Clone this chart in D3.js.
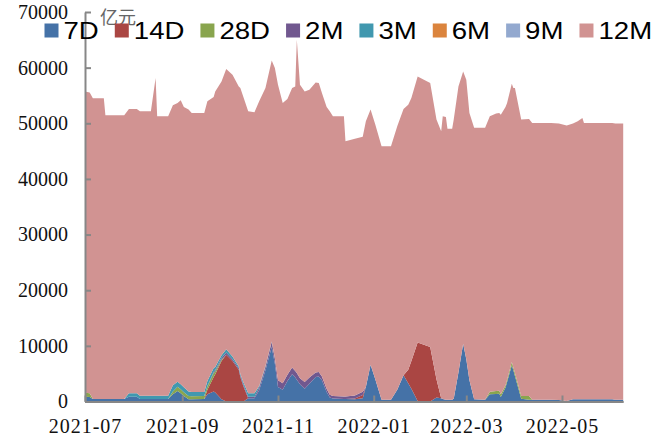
<!DOCTYPE html>
<html><head><meta charset="utf-8">
<script src="https://cdn.jsdelivr.net/npm/d3@7"></script>
<style>html,body{margin:0;padding:0;background:#fff;} svg{display:block}</style>
</head><body>
<svg id="chart" width="662" height="447"></svg>
<script>
const dates = ["2021-07-01","2021-07-04","2021-07-06","2021-07-13","2021-07-14","2021-07-26","2021-07-29","2021-08-03","2021-08-05","2021-08-12",
"2021-08-15","2021-08-16","2021-08-23","2021-08-26","2021-08-29","2021-08-31","2021-09-02","2021-09-05","2021-09-07","2021-09-15",
"2021-09-17","2021-09-21","2021-09-22","2021-09-26","2021-09-29","2021-10-03","2021-10-07","2021-10-08","2021-10-10","2021-10-13",
"2021-10-17","2021-10-20","2021-10-24","2021-10-28","2021-10-30","2021-11-01","2021-11-04","2021-11-07","2021-11-10","2021-11-12",
"2021-11-13","2021-11-15","2021-11-18","2021-11-21","2021-11-25","2021-11-27","2021-11-29","2021-12-02","2021-12-04","2021-12-06",
"2021-12-13","2021-12-14","2021-12-20","2021-12-25","2021-12-27","2021-12-30","2022-01-02","2022-01-06","2022-01-12","2022-01-16",
"2022-01-20","2022-01-23","2022-01-25","2022-01-29","2022-02-06","2022-02-10","2022-02-13","2022-02-14","2022-02-16","2022-02-17",
"2022-02-20","2022-02-21","2022-02-24","2022-02-27","2022-03-01","2022-03-03","2022-03-06","2022-03-13","2022-03-16","2022-03-20",
"2022-03-22","2022-03-23","2022-03-26","2022-03-27","2022-03-30","2022-03-31","2022-04-01","2022-04-05","2022-04-10","2022-04-12",
"2022-04-24","2022-04-29","2022-05-04","2022-05-08","2022-05-11","2022-05-14","2022-05-15","2022-06-02","2022-06-04","2022-06-09"];

const seriesNames = ["7D","14D","28D","2M","3M","6M","9M","12M"];

const v7D = [860,800,450,450,450,450,860,860,450,450,
450,450,450,1300,1900,1500,990,400,400,450,
1300,1800,1600,400,0,0,0,0,0,575,
575,2000,5600,9800,6800,2600,2100,3700,4900,4300,
3900,3100,2300,3200,4400,4500,3800,1700,700,550,
450,450,400,570,2600,6600,4000,300,300,2100,
4700,3300,2300,100,0,700,600,450,300,300,
300,500,5200,10400,7600,3800,400,300,1300,1350,
1400,800,2500,3500,6500,5600,4600,500,300,300,
300,250,100,400,400,400,400,400,300,300];

const v14D = [0,0,0,0,0,0,0,0,0,0,
0,0,0,0,0,0,0,0,0,0,
800,2600,3300,6900,8400,7300,5700,4400,2700,0,
0,0,0,0,0,0,0,0,0,0,
0,0,0,0,0,0,0,0,0,0,
0,0,150,600,0,0,0,0,0,0,
0,2400,5000,10500,9800,3300,0,0,0,0,
0,0,0,0,0,0,0,0,0,0,
0,0,0,0,0,0,0,0,0,0,
0,0,0,0,0,0,0,0,0,0];

const v28D = [720,700,0,0,0,0,0,0,0,0,
0,0,0,500,770,700,660,600,550,550,
600,700,500,200,0,0,0,0,0,0,
0,0,0,0,0,0,0,0,0,0,
0,0,0,0,0,0,0,0,0,0,
0,0,0,0,0,0,0,0,0,0,
0,0,0,0,0,0,0,0,0,0,
0,0,0,0,0,0,0,0,450,550,
550,500,400,400,600,500,500,500,700,0,
0,0,0,0,0,0,0,0,0,0];

const v2M = [0,0,0,0,0,0,0,0,0,0,
0,0,0,0,0,0,0,0,0,0,
100,200,200,300,400,300,300,300,300,290,
300,500,600,900,900,1200,1200,1100,1200,1200,
1200,1100,1200,1100,800,800,700,600,500,450,
450,450,550,600,0,0,0,0,0,0,
0,0,0,0,0,0,0,0,0,0,
0,0,0,0,0,0,0,0,0,0,
0,0,0,0,0,0,0,0,0,0,
0,0,0,0,0,0,0,0,0,0];

const v3M = [0,0,0,0,0,0,610,610,590,590,
590,590,590,1100,900,900,900,800,750,700,
900,700,600,500,600,500,300,300,400,600,
600,300,200,100,100,0,0,0,0,0,
0,0,0,0,0,0,0,0,0,0,
0,0,0,0,0,0,0,0,0,0,
0,0,0,0,0,0,0,0,0,0,
0,0,0,0,0,0,0,0,0,0,
0,0,0,0,0,0,0,0,0,0,
0,0,0,0,0,0,0,0,0,0];

const v6M = [0,0,0,0,0,0,0,0,0,0,
0,0,0,0,0,0,0,0,0,0,
0,0,0,0,0,0,0,0,0,0,
0,0,0,0,0,0,0,0,0,0,
0,0,0,0,0,0,0,0,0,0,
0,0,0,0,0,0,0,0,0,0,
0,0,0,0,0,0,0,0,0,0,
0,0,0,0,0,0,0,0,0,0,
0,0,0,0,0,0,0,0,0,0,
0,0,0,0,0,0,0,0,0,0];

const v9M = [0,0,0,0,0,0,0,0,0,0,
0,0,0,0,0,0,0,0,0,0,
0,0,0,0,0,0,0,0,0,0,
0,0,0,0,0,0,0,0,0,0,
0,0,0,0,0,0,0,0,0,0,
0,0,0,0,0,0,0,0,0,0,
0,0,0,0,0,0,0,0,0,0,
0,0,0,0,0,0,0,0,0,0,
0,0,0,0,0,0,0,0,0,0,
0,0,0,0,0,0,0,0,0,0];

const v12M = [54150,54050,54030,54030,50980,50980,51110,51110,51110,51110,
57090,50210,50210,50320,50080,51020,50390,50660,50160,50160,
50240,48730,49530,49220,50340,50620,50330,51340,51260,50685,
50495,51140,49940,50490,52120,53130,50350,49570,50240,51130,
59900,52730,52230,51740,52140,51920,50950,50640,50950,50250,
50350,45880,46110,45800,47760,45860,45770,45590,45590,47370,
47880,47650,47250,47820,47420,46660,47970,50800,50830,48700,
48700,50160,51430,48910,50220,48060,48780,48880,49500,49840,
49910,50250,50040,49750,50010,50240,51240,49660,49780,49770,
49770,49700,49490,49550,49960,50560,49670,49670,49650,49650];

const yTicks = [0,10000,20000,30000,40000,50000,60000,70000];
const xTickLabels = ["2021-07","2021-09","2021-11","2022-01","2022-03","2022-05"];
const unitLabel = "亿元";

// ---- styles ----
const colors = ["#4572A7","#AA4643","#89A54E","#71588F","#4198AF","#DB843D","#93A9CF","#D19392"];
const axisColor = "#878787";

const parse = d3.timeParse("%Y-%m-%d");
const parseMonth = d3.timeParse("%Y-%m");
const valueArrays = [v7D, v14D, v28D, v2M, v3M, v6M, v9M, v12M];
const rows = dates.map((d, i) => {
  const r = { date: parse(d) };
  seriesNames.forEach((k, j) => { r[k] = valueArrays[j][i]; });
  return r;
});

const svg = d3.select("#chart");
const x = d3.scaleTime()
  .domain([parse(dates[0]), parse(dates[dates.length - 1])])
  .range([85, 623.2]);
const y = d3.scaleLinear().domain([0, 70000]).range([401.5, 12]);

const stacked = d3.stack().keys(seriesNames)(rows);
const area = d3.area()
  .x(d => x(d.data.date))
  .y0(d => y(d[0]))
  .y1(d => y(d[1]));

svg.append("g").selectAll("path")
  .data(stacked)
  .join("path")
  .attr("d", area)
  .attr("fill", (d, i) => colors[i]);

// unit label
svg.append("text")
  .attr("x", 100).attr("y", 24)
  .attr("font-family", "Noto Sans CJK SC")
  .attr("font-size", 18)
  .attr("fill", "#666")
  .text(unitLabel);

// axes
const xAxis = d3.axisBottom(x)
  .tickValues(xTickLabels.map(s => parseMonth(s)))
  .tickFormat(d3.timeFormat("%Y-%m"))
  .tickSize(-6).tickSizeOuter(0).tickPadding(17);
const gx = svg.append("g").attr("transform", "translate(0,401.5)").call(xAxis);

const yAxis = d3.axisLeft(y)
  .tickValues(yTicks)
  .tickFormat(d3.format("d"))
  .tickSize(-6).tickSizeOuter(0).tickPadding(17);
const gy = svg.append("g").attr("transform", "translate(85,0)").call(yAxis);

[gx, gy].forEach(g => {
  g.select(".domain").attr("stroke", axisColor).attr("stroke-width", 2);
  g.selectAll(".tick line").attr("stroke", axisColor).attr("stroke-width", 2);
  g.selectAll(".tick text")
    .attr("fill", "#111")
    .attr("font-family", "Liberation Serif")
    .attr("font-size", 20);
});
gx.selectAll(".tick text").attr("letter-spacing", "1px");

// legend
const legend = svg.append("g");
let lx = 44.5;
const sx = 1.15;
seriesNames.forEach((name, i) => {
  legend.append("rect")
    .attr("x", lx).attr("y", 23.5)
    .attr("width", 14).attr("height", 14)
    .attr("fill", colors[i]);
  const t = legend.append("text")
    .attr("transform", `translate(${lx + 19},39) scale(${sx},1)`)
    .attr("font-family", "Liberation Sans")
    .attr("font-size", 24)
    .attr("fill", "#000")
    .text(name);
  const w = t.node().getComputedTextLength() * sx;
  lx += 19 + w + 16;
});
</script>
</body></html>
